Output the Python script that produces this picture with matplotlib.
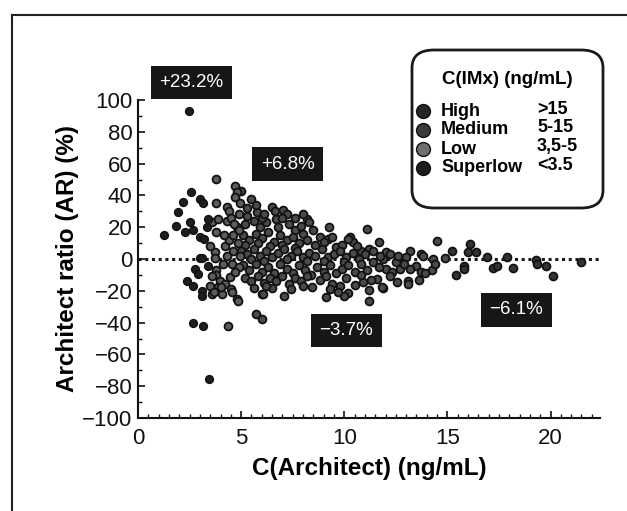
import matplotlib.pyplot as plt
from matplotlib.lines import Line2D
from matplotlib.patches import FancyBboxPatch
from matplotlib.ticker import MultipleLocator

plt.rcParams['font.family'] = ['Liberation Sans Narrow', 'Liberation Sans', 'DejaVu Sans']

# ---- data (C(Architect), AR %) ----
superlow_x = [1.25, 1.85, 1.93, 2.17, 2.57, 2.47, 2.30, 2.52, 2.69, 3.00, 3.17, 3.00, 3.20, 3.33,
              3.40, 2.77, 2.90, 2.36, 2.69, 3.00, 3.09, 3.09, 2.68, 3.17, 3.44, 3.40, 3.10]
superlow_y = [15, 21, 29.5, 36, 42, 93, 17, 23.5, 18, 37.5, 35, 13.6, 12.6, 20,
              25, -6.3, -9.4, -13.6, -16.8, 0.8, -20, -23, -40, -42, -75.5, -4.2, 0.4]

low_x = [3.79, 3.79, 3.50, 3.74, 3.74, 3.58, 3.87, 4.30, 4.30, 4.40, 4.71, 4.79, 4.71, 3.79,
         3.77, 3.80, 3.60, 3.98, 3.50, 3.88, 4.21, 4.52, 3.58, 4.06, 4.00, 4.47, 4.56, 4.79,
         4.85, 4.37, 3.69, 4.20, 4.40, 4.60, 4.80, 4.50, 4.90, 4.60, 4.85, 4.30, 4.55, 4.90,
         4.70, 4.95, 4.10, 4.90, 4.65, 4.95, 4.15]
low_y = [50.3, 35, 8.4, 4.2, 0.8, 23, 25, 24, 32.5, 30, 46, 42, 38.8, 16.8,
         -7, -10, -10.5, -13.6, -16.8, -17.8, -15.7, -18.9, -22, -22, -17.8, -11.5, -21, -25,
         -26.2, -42, -20.5, 8, 12, 15, 20, 26, 28, 5, 10, 2, -3, -5,
         -8, 2, -3, 18, 22, 35, 15]

medium_x = [5.00, 5.50, 5.76, 6.49, 6.65, 7.05, 7.22, 6.70, 8.19, 8.27, 9.24, 11.10, 10.30, 10.40,
            11.67, 14.50, 13.20, 13.70, 13.80, 12.00, 12.20, 11.90, 10.20, 9.60, 9.20, 10.80, 11.20,
            11.75, 12.50, 12.70, 13.50, 13.20, 14.30, 14.25, 13.70, 13.90, 13.10, 13.10, 13.60, 12.56,
            11.90, 11.20, 11.20, 11.85, 12.00, 11.60, 10.90, 10.50, 10.20, 10.00, 9.80, 9.70, 9.42,
            9.30, 9.13, 8.45, 7.09, 6.50, 6.02, 5.73, 6.02, 6.08, 14.90, 14.40,
            # y ~ 20..25
            5.2, 5.6, 5.9, 6.2, 6.8, 7.3, 7.6, 8.0, 8.5, 8.8, 5.3, 6.0, 7.0, 7.9,
            # y ~ 10..18
            5.1, 5.4, 5.7, 6.0, 6.3, 6.6, 6.9, 7.2, 7.5, 7.8, 8.2, 8.6, 9.0, 9.4, 9.9, 10.6,
            5.2, 5.8, 6.4, 7.0, 7.6,
            # y ~ 0..8
            5.0, 5.3, 5.6, 5.9, 6.2, 6.5, 6.8, 7.1, 7.4, 7.7, 8.0, 8.3, 8.6, 8.9, 9.2, 9.5,
            9.8, 10.1, 10.4, 10.7, 11.0, 11.4, 12.6, 13.0, 5.5, 6.1, 7.2, 8.2, 9.0, 10.0,
            # y ~ -1..-10
            5.1, 5.4, 5.7, 6.0, 6.3, 6.6, 6.9, 7.2, 7.5, 7.8, 8.1, 8.4, 8.7, 9.0, 9.3, 9.6,
            9.9, 10.2, 10.5, 10.8, 11.1, 11.4, 11.7, 12.3, 12.9,
            # y ~ -10..-19
            5.2, 5.5, 5.8, 6.1, 6.4, 6.7, 7.0, 7.3, 7.6, 7.9, 8.2, 8.8, 9.1, 10.1, 10.8, 11.3,
            12.2, 5.6, 6.2, 7.4, 8.0,
            # upper extras
            5.3, 5.7, 6.1, 7.6, 8.0]
medium_y = [42.6, 38, 29.4, 32.5, 30.4, 31, 28.3, 25, 25.2, 23, 19.9, 18.9, 13.8, 10.7,
            10.5, 11.5, 5.2, 3.1, 2.1, 4.2, 3.1, 0, 12.6, 7.3, 12.6, 5.2, 6.3,
            2.1, -2, -6.3, -4.2, -6.3, 0, -6.9, -8, -8.5, -13.6, -15.7, -13, -14.7,
            -18.4, -19.3, -26.2, -17.8, -6.3, -12.6, -14.3, -16.4, -21.6, -23, -16.8, -21, -15.7,
            -18.9, -24.1, -17.8, -23, -18.4, -22, -34.6, -37.7, -22, 0.5, -3,
            22, 24, 20, 23, 20, 22, 18, 16, 18, 14, 27, 26, 26, 21,
            15, 12, 16, 13, 17, 11, 15, 12, 14, 10, 12, 9, 11, 14, 9, 8,
            9, 10, 8, 9, 7,
            5, 3, 6, 2, 5, 1, 4, 6, 2, 5, 1, 4, 2, 6, 1, 3,
            5, 1, 4, 0, 3, 5, 2, 1, 0, -1, 0, -1, -1, -2,
            -4, -7, -3, -8, -5, -9, -3, -6, -9, -4, -7, -10, -5, -8, -4, -9,
            -6, -4, -8, -3, -7, -2, -5, -8, -3,
            -12, -14, -11, -15, -12, -14, -11, -16, -12, -14, -11, -13, -11, -12, -10, -13,
            -11, -18, -17, -19, -17,
            32, 34, 28, 26, 28]

high_x = [15.2, 16.1, 16.0, 16.4, 16.9, 17.9, 19.3, 19.35, 21.5, 15.8, 15.8, 15.4, 17.2, 17.4,
          18.2, 19.8, 20.1]
high_y = [5.2, 9.4, 4.6, 4.6, 1.5, 1.0, -0.6, -3, -2, -4.2, -6.3, -10, -5.9, -4.2,
          -5.9, -4.2, -10.9]

# mean bias boxes
box_text = ['+23.2%', '+6.8%', '\u22123.7%', '\u22126.1%']
box_x = [2.6, 7.25, 10.1, 18.35]
box_y = [111, 59.5, -45, -32]

legend_names = ['High', 'Medium', 'Low', 'Superlow']
legend_ranges = ['>15', '5-15', '3,5-5', '<3.5']
legend_colors = ['#262626', '#3a3a3a', '#6e6e6e', '#1c1c1c']

W, H = 627, 511
fig = plt.figure(figsize=(W / 100, H / 100), dpi=100)
ax = fig.add_axes([138 / W, 1 - 418 / H, 462 / W, 318 / H])

# zero line
ax.axhline(0, color='#1a1a1a', lw=2.2, linestyle=(0, (1, 1.2)), zorder=1)

# points
ax.scatter(medium_x, medium_y, s=32, facecolor='#4a4a4a', edgecolor='#111111', linewidths=1.3, zorder=3)
ax.scatter(low_x, low_y, s=32, facecolor='#5c5c5c', edgecolor='#111111', linewidths=1.3, zorder=3)
ax.scatter(high_x, high_y, s=32, facecolor='#333333', edgecolor='#111111', linewidths=1.3, zorder=3)
ax.scatter(superlow_x, superlow_y, s=32, facecolor='#1e1e1e', edgecolor='#111111', linewidths=1.0, zorder=3)

# dark labels with the mean ratio
for t, bx, by in zip(box_text, box_x, box_y):
    ax.text(bx, by, t, color='white', fontsize=13.5, ha='center', va='center', clip_on=False,
            family=['Liberation Sans', 'DejaVu Sans'],
            bbox=dict(boxstyle='square,pad=0.45', fc='#161616', ec='none'), zorder=5)

ax.set_xlim(0, 22.4)
ax.set_ylim(-100, 100)
ax.set_xticks([0, 5, 10, 15, 20])
ax.set_yticks(range(-100, 101, 20))
ax.xaxis.set_minor_locator(MultipleLocator(0.5))
ax.yaxis.set_minor_locator(MultipleLocator(10))
ax.tick_params(axis='both', which='major', labelsize=16, direction='in', length=5, width=1.2, colors='#111')
ax.tick_params(axis='both', which='minor', direction='in', length=3, width=1.0, colors='#111')
ax.tick_params(axis='x', pad=7)
ax.tick_params(axis='y', pad=4)
for side in ['top', 'right']:
    ax.spines[side].set_visible(False)
for side in ['left', 'bottom']:
    ax.spines[side].set_linewidth(1.5)
    ax.spines[side].set_color('#111')

ax.set_xlabel('C(Architect) (ng/mL)', fontsize=17.5, fontweight='bold',
              family=['Liberation Sans', 'DejaVu Sans'], labelpad=6)
ax.set_ylabel('Architect ratio (AR) (%)', fontsize=17.5, fontweight='bold',
              family=['Liberation Sans', 'DejaVu Sans'], labelpad=2)

# legend drawn by hand (rounded box, two text columns)
fig.add_artist(FancyBboxPatch((412 / W, 1 - 208 / H), 191 / W, 158 / H,
                              boxstyle='round,pad=0,rounding_size=0.035', transform=fig.transFigure,
                              fc='white', ec='#1a1a1a', lw=2.0))
fig.text(507 / W, 1 - 80 / H, 'C(IMx) (ng/mL)', fontsize=13.5, fontweight='bold', ha='center', va='center',
         family=['Liberation Sans', 'DejaVu Sans'])
leg_py = [111, 130, 149, 168]
for name, rng, c, py in zip(legend_names, legend_ranges, legend_colors, leg_py):
    fy = 1 - py / H
    fig.add_artist(Line2D([423 / W], [fy], marker='o', markersize=10, markerfacecolor=c,
                          markeredgecolor='#111', transform=fig.transFigure))
    fig.text(441 / W, fy, name, fontsize=13, fontweight='bold', va='center',
             family=['Liberation Sans', 'DejaVu Sans'])
    fig.text(537 / W, fy + 2 / H, rng, fontsize=13, fontweight='bold', va='center',
             family=['Liberation Sans', 'DejaVu Sans'])

# outer frame of the scanned panel
fig.add_artist(Line2D([12 / W, 12 / W], [0, 1 - 15 / H], color='#222', lw=1.5, transform=fig.transFigure))
fig.add_artist(Line2D([12 / W, 1], [1 - 15 / H, 1 - 15 / H], color='#222', lw=1.5, transform=fig.transFigure))

fig.savefig('out.png', dpi=100)
